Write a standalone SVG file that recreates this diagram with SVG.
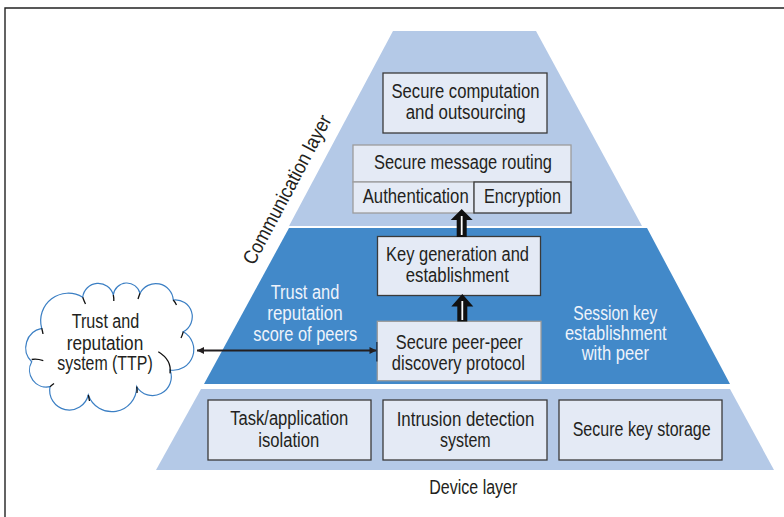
<svg xmlns="http://www.w3.org/2000/svg" width="784" height="517" viewBox="0 0 784 517">
<defs>
<style>
.t{font-family:"Liberation Sans","Arial",sans-serif;font-size:20px;fill:#231f20;text-anchor:middle}
.w{font-family:"Liberation Sans","Arial",sans-serif;font-size:20px;fill:#eef3fb;text-anchor:middle}
.box{fill:#e4eaf5;stroke:#3a3a3a;stroke-width:1.3}
.boxg{fill:#e4eaf5;stroke:#9c9c9c;stroke-width:1.3}
.light{fill:#b4c9e7}
.dark{fill:#4289c9}
.arr{fill:#111}
.stripe{stroke:#fff;stroke-width:1.8}
.cloudmark{fill:none;stroke:#111;stroke-width:1.3}
</style>
<marker id="ah" viewBox="0 0 10 10" refX="10" refY="5" markerWidth="8" markerHeight="7" markerUnits="userSpaceOnUse" orient="auto-start-reverse">
<path d="M0,0 L10,5 L0,10 Z" fill="#231f20"/>
</marker>
</defs>
<rect width="784" height="517" fill="#fff"/>
<path d="M5,517 V8 H784" fill="none" stroke="#222" stroke-width="1.4"/>

<g id="layers">
<polygon class="light" points="393,31 536,31 642,226 289,226"/>
<polygon class="dark" points="289,228 647,228 730,384 204,384"/>
<polygon class="light" points="201,389 730,389 774,470 156,470"/>
<text class="t" transform="translate(254,266) rotate(-62)" x="0" y="0" style="text-anchor:start" textLength="166" lengthAdjust="spacingAndGlyphs">Communication layer</text>
<text class="t" x="473.3" y="494" textLength="88" lengthAdjust="spacingAndGlyphs">Device layer</text>
</g>

<g id="secure-computation">
<rect class="box" x="383" y="73" width="164" height="60"/>
<text class="t" x="465.5" y="98" textLength="148" lengthAdjust="spacingAndGlyphs">Secure computation</text>
<text class="t" x="465.7" y="119" textLength="120" lengthAdjust="spacingAndGlyphs">and outsourcing</text>
</g>

<g id="secure-message-routing">
<rect class="boxg" x="353" y="145" width="218" height="37"/>
<text class="t" x="463" y="169" textLength="178" lengthAdjust="spacingAndGlyphs">Secure message routing</text>
</g>
<g id="authentication">
<rect class="boxg" x="353" y="182" width="121" height="31"/>
<text class="t" x="415.7" y="203" textLength="106" lengthAdjust="spacingAndGlyphs">Authentication</text>
</g>
<g id="encryption">
<rect class="box" x="474" y="182" width="97" height="31"/>
<text class="t" x="522.5" y="203" textLength="77" lengthAdjust="spacingAndGlyphs">Encryption</text>
</g>

<g id="key-generation">
<rect class="box" x="377.5" y="236.5" width="163" height="59"/>
<text class="t" x="457.5" y="260.5" font-size="19" textLength="143" lengthAdjust="spacingAndGlyphs">Key generation and</text>
<text class="t" x="457.3" y="282" font-size="19" textLength="103" lengthAdjust="spacingAndGlyphs">establishment</text>
</g>

<g id="secure-peer-discovery">
<rect class="boxg" x="377.3" y="321.3" width="163.7" height="59.4"/>
<text class="t" x="459.3" y="348.5" textLength="127" lengthAdjust="spacingAndGlyphs">Secure peer-peer</text>
<text class="t" x="458.3" y="370" textLength="133" lengthAdjust="spacingAndGlyphs">discovery protocol</text>
</g>

<g id="trust-score-label">
<text class="w" x="305" y="299.3" textLength="68.6" lengthAdjust="spacingAndGlyphs">Trust and</text>
<text class="w" x="305" y="319.5" textLength="75.4" lengthAdjust="spacingAndGlyphs">reputation</text>
<text class="w" x="305.3" y="340.5" textLength="104" lengthAdjust="spacingAndGlyphs">score of peers</text>
</g>

<g id="session-key-label">
<text class="w" x="615.3" y="320" textLength="84" lengthAdjust="spacingAndGlyphs">Session key</text>
<text class="w" x="615.8" y="340" textLength="101.7" lengthAdjust="spacingAndGlyphs">establishment</text>
<text class="w" x="615.3" y="360" textLength="67.3" lengthAdjust="spacingAndGlyphs">with peer</text>
</g>

<g id="task-isolation">
<rect class="box" x="208" y="400" width="163" height="60" stroke="#555"/>
<text class="t" x="289.2" y="425" textLength="118" lengthAdjust="spacingAndGlyphs">Task/application</text>
<text class="t" x="288.8" y="447" textLength="61" lengthAdjust="spacingAndGlyphs">isolation</text>
</g>
<g id="intrusion-detection">
<rect class="box" x="383" y="400" width="164" height="60"/>
<text class="t" x="465.5" y="425.5" textLength="137.7" lengthAdjust="spacingAndGlyphs">Intrusion detection</text>
<text class="t" x="465.3" y="447" textLength="50.7" lengthAdjust="spacingAndGlyphs">system</text>
</g>
<g id="secure-key-storage">
<rect class="box" x="559" y="400" width="163" height="60"/>
<text class="t" x="641.7" y="435.5" textLength="138" lengthAdjust="spacingAndGlyphs">Secure key storage</text>
</g>

<g id="trust-reputation-system">
<path d="M41.7,328.3 A19.7,19.7 0 0 0 31.7,361.7 A17,17 0 0 0 50,386.7 A19.6,19.6 0 0 0 88.3,395 A24.9,24.9 0 0 0 136.7,386.7 A18.7,18.7 0 0 0 170,370 A20.6,20.6 0 0 0 183.3,331.7 A16.9,16.9 0 0 0 173.3,300 A17.6,17.6 0 0 0 140,293.3 A13.6,13.6 0 0 0 113.3,295 A15.6,15.6 0 0 0 82.7,297.3 A27.6,27.6 0 0 0 41.7,328.3 Z" fill="#fff" stroke="#3b7fc4" stroke-width="1.2"/>
<path class="cloudmark" d="M82.7,297.3 Q84,301 85.5,304 M113.3,295 Q114,298 113.8,301 M140,293.3 Q139,296 138,299 M173.3,300 Q175,302 176.5,305 M183.3,331.7 Q182.5,335 181,338 M158.3,351.7 Q172,360 170,373.3 M136.7,386.7 Q137.5,390 137,393 M88.3,395 Q89,398 89.5,401 M50,386.7 Q52,385 54,383.5 M31.7,359.5 Q37,358.5 43.3,360.7 M41.7,328.3 Q42.5,331 43,334"/>
<text class="t" x="105.5" y="328.3" textLength="67.6" lengthAdjust="spacingAndGlyphs">Trust and</text>
<text class="t" x="105" y="349.5" textLength="76.6" lengthAdjust="spacingAndGlyphs">reputation</text>
<text class="t" x="105" y="370" textLength="95.4" lengthAdjust="spacingAndGlyphs">system (TTP)</text>
</g>

<g id="connectors">
<line x1="197" y1="350.5" x2="376.5" y2="350.5" stroke="#231f20" stroke-width="2" marker-start="url(#ah)" marker-end="url(#ah)"/>
<line x1="376.8" y1="342" x2="376.8" y2="361.5" stroke="#1d3550" stroke-width="1.4"/>
<polygon class="arr" points="461.7,209 472.7,220 466.7,220 466.7,237 456.7,237 456.7,220 450.7,220"/>
<line class="stripe" x1="461.7" y1="216" x2="461.7" y2="235"/>
<polygon class="arr" points="462.3,294 473.3,306.5 467.3,306.5 467.3,321.5 457.3,321.5 457.3,306.5 451.3,306.5"/>
<line class="stripe" x1="462.3" y1="301" x2="462.3" y2="320"/>
</g>
</svg>
